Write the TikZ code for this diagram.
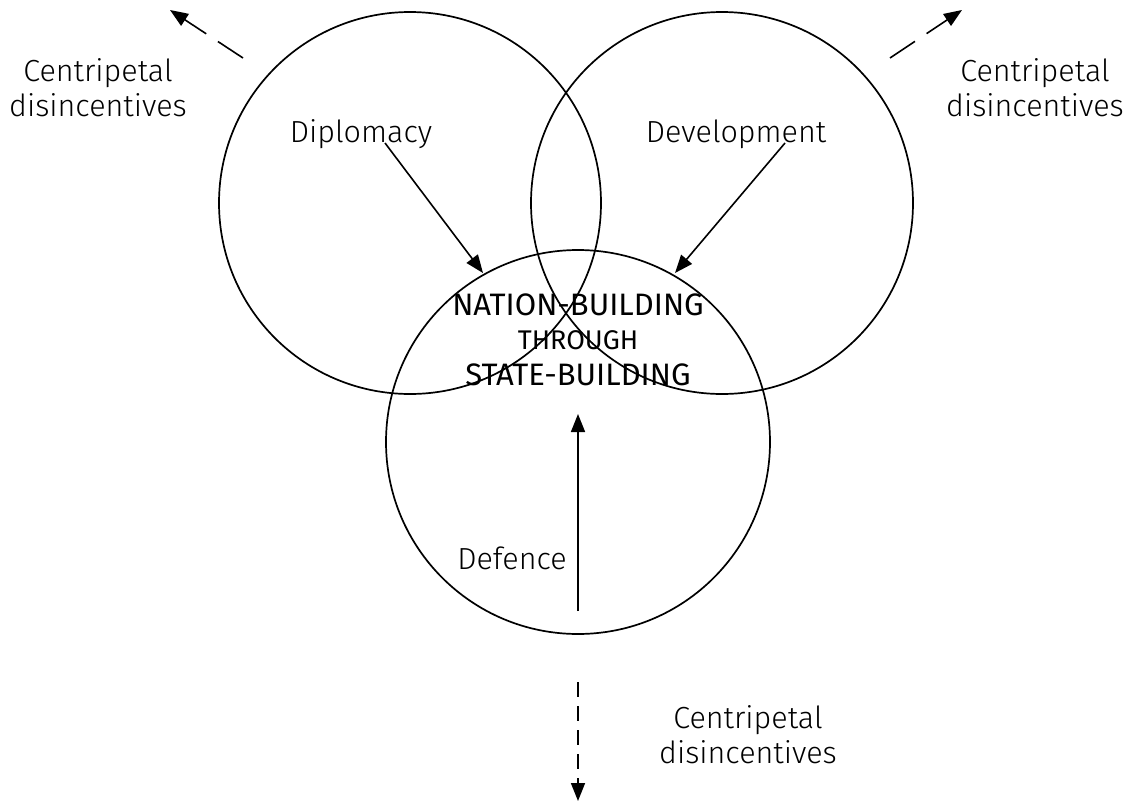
\documentclass[tikz,border=0pt]{standalone}
\usepackage{fontspec}
\setmainfont{Fira Sans}[UprightFont={* Light}]
\newfontfamily\regfont{Fira Sans}
\usetikzlibrary{arrows.meta}
\tikzset{
  ring/.style={draw, line width=1.7pt},
  lbl/.style={font=\fontsize{30.5}{35}\selectfont, align=center, inner sep=0pt},
  solidarrow/.style={line width=1.6pt, -{Triangle[length=18pt,width=14pt]}},
  dasharrow/.style={line width=1.6pt, -{Triangle[length=18pt,width=14pt]}},
  big/.style={font=\regfont\fontsize{31}{36}\selectfont, inner sep=0pt},
  mid/.style={font=\regfont\fontsize{27}{30}\selectfont, inner sep=0pt}
}
\begin{document}
\begin{tikzpicture}[x=1pt,y=-1pt]
\useasboundingbox (0,0) rectangle (1138,803);
% circles
\draw[ring] (410,203) circle (191);
\draw[ring] (722,203) circle (191);
\draw[ring] (578,442) circle (192);
% labels
\node[lbl] (dip) at (361,134) {Diplomacy};
\node[lbl] (dev) at (736,134) {Development};
\node[lbl] (def) at (512,558) {Defence};
\node[big] (nb) at (578,305) {NATION-BUILDING};
\node[mid] (thr) at (578,340) {THROUGH};
\node[big] (sb) at (578,375) {STATE-BUILDING};
\node[lbl] (cl) at (98,88) {Centripetal\\disincentives};
\node[lbl] (cr) at (1035,88) {Centripetal\\disincentives};
\node[lbl] (cb) at (748,735) {Centripetal\\disincentives};
% solid arrows
\coordinate (dipS) at (385,143);
\coordinate (dipE) at (483,273);
\coordinate (devS) at (785,143);
\coordinate (devE) at (675,273);
\coordinate (defS) at (578,611);
\coordinate (defE) at (578,414);
\draw[solidarrow] (dipS) -- (dipE);
\draw[solidarrow] (devS) -- (devE);
\draw[solidarrow] (defS) -- (defE);
% dashed arrows
\coordinate (lS) at (243,58);
\coordinate (lE) at (170,10);
\coordinate (rS) at (890,58);
\coordinate (rE) at (962,10);
\coordinate (bS) at (578,682);
\coordinate (bE) at (578,801);
\draw[dasharrow, dash pattern=on 30pt off 14pt] (lS) -- (lE);
\draw[dasharrow, dash pattern=on 30pt off 14pt] (rS) -- (rE);
\draw[dasharrow, dash pattern=on 15pt off 9pt] (bS) -- (bE);
\end{tikzpicture}
\end{document}
